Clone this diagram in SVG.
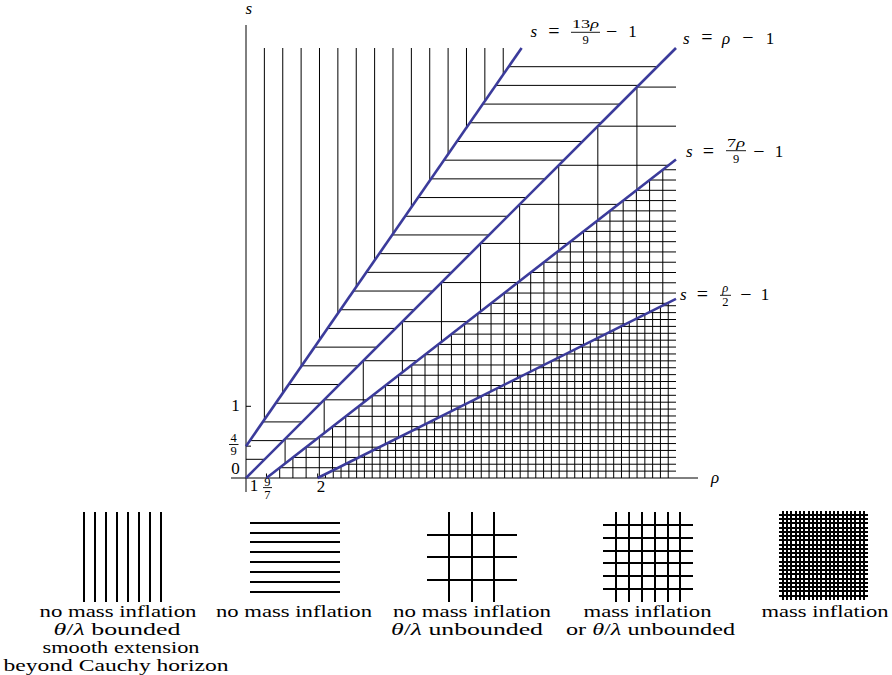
<svg xmlns="http://www.w3.org/2000/svg" width="892" height="675" viewBox="0 0 892 675" font-family="'Liberation Serif', 'Times New Roman', serif">
<style>
text{font-family:'Liberation Serif','Times New Roman',serif;fill:#000}
.m{font-style:italic}
.t{font-size:17px}
.op{font-size:20px}
.f{font-size:12.5px}
.lg{font-size:16.5px}
.bl{stroke:#3b3b9b;stroke-width:2.6;fill:none}
.ax{stroke:#000;stroke-width:1;fill:none}
.leg{stroke:#000;stroke-width:2;fill:none}
.bar{stroke:#000;stroke-width:0.9;fill:none}
.gl{stroke:#000;stroke-width:1;fill:none}
</style>
<defs>
<clipPath id="c1"><polygon points="246,48 521.6,48 246,446.15"/></clipPath>
<clipPath id="c2"><polygon points="246,446.15 521.6,48 676,48 246,478"/></clipPath>
<clipPath id="c3"><polygon points="246,478 676,48 676,159.5 266.48,478"/></clipPath>
<clipPath id="c4"><polygon points="266.48,478 676,159.5 676,298.83 317.67,478"/></clipPath>
<clipPath id="c5"><polygon points="317.67,478 676,298.83 676,478"/></clipPath>
</defs>

<g id="regions">
<path id="region-1" class="gl" clip-path="url(#c1)" d="M264.37 48V447M282.75 48V447M301.12 48V447M319.49 48V447M337.87 48V447M356.24 48V447M374.61 48V447M392.98 48V447M411.36 48V447M429.73 48V447M448.1 48V447M466.48 48V447M484.85 48V447M503.22 48V447"/>
<path id="region-2" class="gl" clip-path="url(#c2)" d="M246 459.3H676M246 440.61H676M246 421.91H676M246 403.22H676M246 384.52H676M246 365.82H676M246 347.13H676M246 328.43H676M246 309.74H676M246 291.04H676M246 272.34H676M246 253.65H676M246 234.95H676M246 216.26H676M246 197.56H676M246 178.86H676M246 160.17H676M246 141.47H676M246 122.78H676M246 104.08H676M246 85.38H676M246 66.69H676"/>
<path id="region-3" class="gl" clip-path="url(#c3)" d="M285.09 48V478M324.18 48V478M363.27 48V478M402.36 48V478M441.45 48V478M480.55 48V478M519.64 48V478M558.73 48V478M597.82 48V478M636.91 48V478M246 438.91H676M246 399.82H676M246 360.73H676M246 321.64H676M246 282.55H676M246 243.45H676M246 204.36H676M246 165.27H676M246 126.18H676M246 87.09H676"/>
<path id="region-4" class="gl" clip-path="url(#c4)" d="M279.69 159V478M292.9 159V478M306.11 159V478M319.32 159V478M332.53 159V478M345.74 159V478M358.95 159V478M372.16 159V478M385.37 159V478M398.58 159V478M411.79 159V478M425 159V478M438.21 159V478M451.42 159V478M464.63 159V478M477.84 159V478M491.06 159V478M504.27 159V478M517.48 159V478M530.69 159V478M543.9 159V478M557.11 159V478M570.32 159V478M583.53 159V478M596.74 159V478M609.95 159V478M623.16 159V478M636.37 159V478M649.58 159V478M662.79 159V478M266 467.73H676M266 457.45H676M266 447.18H676M266 436.9H676M266 426.63H676M266 416.35H676M266 406.08H676M266 395.8H676M266 385.53H676M266 375.25H676M266 364.98H676M266 354.7H676M266 344.43H676M266 334.15H676M266 323.88H676M266 313.6H676M266 303.33H676M266 293.05H676M266 282.78H676M266 272.5H676M266 262.23H676M266 251.95H676M266 241.68H676M266 231.4H676M266 221.13H676M266 210.86H676M266 200.58H676M266 190.31H676M266 180.03H676M266 169.76H676"/>
<path id="region-5" class="gl" clip-path="url(#c5)" d="M325.46 298V478M333.25 298V478M341.04 298V478M348.83 298V478M356.62 298V478M364.41 298V478M372.2 298V478M379.99 298V478M387.78 298V478M395.57 298V478M403.36 298V478M411.15 298V478M418.94 298V478M426.73 298V478M434.52 298V478M442.31 298V478M450.1 298V478M457.89 298V478M465.68 298V478M473.47 298V478M481.26 298V478M489.05 298V478M496.84 298V478M504.63 298V478M512.42 298V478M520.21 298V478M528 298V478M535.79 298V478M543.58 298V478M551.37 298V478M559.16 298V478M566.95 298V478M574.74 298V478M582.53 298V478M590.32 298V478M598.11 298V478M605.9 298V478M613.69 298V478M621.48 298V478M629.27 298V478M637.06 298V478M644.85 298V478M652.64 298V478M660.43 298V478M668.22 298V478M317 471.11H676M317 464.22H676M317 457.33H676M317 450.44H676M317 443.55H676M317 436.65H676M317 429.76H676M317 422.87H676M317 415.98H676M317 409.09H676M317 402.2H676M317 395.31H676M317 388.42H676M317 381.53H676M317 374.64H676M317 367.74H676M317 360.85H676M317 353.96H676M317 347.07H676M317 340.18H676M317 333.29H676M317 326.4H676M317 319.51H676M317 312.62H676M317 305.73H676"/>
</g>

<g id="axes">
<path class="ax" d="M246 25V492M231 478H698"/>
<path class="ax" d="M246 406.3H251M246 446.15H251M266.48 478V473.5M317.67 478V473.5"/>
<text class="m t" x="245.5" y="13.5">s</text>
<text class="m t" x="711" y="483">ρ</text>
<text class="t" x="235.5" y="410.5" text-anchor="middle">1</text>
<text class="t" x="235.5" y="473.5" text-anchor="middle">0</text>
<text class="f" x="233.7" y="441.5" text-anchor="middle">4</text>
<path class="bar" d="M229 444.5H238.5"/>
<text class="f" x="233.7" y="454.5" text-anchor="middle">9</text>
<text class="t" x="254" y="490.5" text-anchor="middle">1</text>
<text class="f" x="267.4" y="485.5" text-anchor="middle">9</text>
<path class="bar" d="M263 487.6H272"/>
<text class="f" x="267.4" y="498.5" text-anchor="middle">7</text>
<text class="t" x="321" y="491.5" text-anchor="middle">2</text>
</g>

<g id="connectors">
<path id="line-13" class="bl" d="M246 446.15L521.6 48"/>
<path id="line-1" class="bl" d="M246 478L676 48"/>
<path id="line-7" class="bl" d="M266.48 478L676 159.5"/>
<path id="line-half" class="bl" d="M317.67 478L676 298.83"/>
</g>

<g id="label-13">
<text class="m t" x="530.5" y="37">s</text>
<text class="op" x="554" y="37.5" text-anchor="middle">=</text>
<text class="f" x="585.5" y="28" text-anchor="middle" textLength="27" lengthAdjust="spacingAndGlyphs">13<tspan class="m">ρ</tspan></text>
<path class="bar" d="M571 32.3H600"/>
<text class="f" x="585.5" y="43.5" text-anchor="middle">9</text>
<text class="op" x="611.7" y="37.5" text-anchor="middle">−</text>
<text class="t" x="632.5" y="37" text-anchor="middle">1</text>
</g>
<g id="label-1">
<text class="m t" x="683" y="43.5">s</text>
<text class="op" x="707" y="44" text-anchor="middle">=</text>
<text class="m t" x="726" y="43.5" text-anchor="middle">ρ</text>
<text class="op" x="748" y="44" text-anchor="middle">−</text>
<text class="t" x="770" y="43.5" text-anchor="middle">1</text>
</g>
<g id="label-7">
<text class="m t" x="686" y="157">s</text>
<text class="op" x="708.3" y="157.5" text-anchor="middle">=</text>
<text class="f" x="736" y="146.5" text-anchor="middle" textLength="18" lengthAdjust="spacingAndGlyphs">7<tspan class="m">ρ</tspan></text>
<path class="bar" d="M726 150.7H746"/>
<text class="f" x="736" y="162.5" text-anchor="middle">9</text>
<text class="op" x="759" y="157.5" text-anchor="middle">−</text>
<text class="t" x="779" y="157" text-anchor="middle">1</text>
</g>
<g id="label-half">
<text class="m t" x="680" y="300">s</text>
<text class="op" x="702.5" y="300.5" text-anchor="middle">=</text>
<text class="f m" x="725.3" y="292" text-anchor="middle">ρ</text>
<path class="bar" d="M720 295.3H731"/>
<text class="f" x="725.3" y="305.5" text-anchor="middle">2</text>
<text class="op" x="746" y="300.5" text-anchor="middle">−</text>
<text class="t" x="765" y="300" text-anchor="middle">1</text>
</g>

<g id="legend-1">
<path class="leg" d="M84 512V602M95 512V602M106 512V602M117 512V602M128 512V602M139 512V602M150 512V602M161 512V602"/>
<text class="lg" x="118" y="616.5" text-anchor="middle" textLength="157" lengthAdjust="spacingAndGlyphs">no mass inflation</text>
<text class="lg" x="117" y="634.5" text-anchor="middle" textLength="127" lengthAdjust="spacingAndGlyphs"><tspan class="m">θ</tspan>/<tspan class="m">λ</tspan> bounded</text>
<text class="lg" x="121" y="652.5" text-anchor="middle" textLength="157" lengthAdjust="spacingAndGlyphs">smooth extension</text>
<text class="lg" x="116" y="670.5" text-anchor="middle" textLength="225" lengthAdjust="spacingAndGlyphs">beyond Cauchy horizon</text>
</g>

<g id="legend-2">
<path class="leg" d="M250 523H340M250 533H340M250 542H340M250 552H340M250 562H340M250 572H340M250 582H340M250 592H340"/>
<text class="lg" x="294" y="616.5" text-anchor="middle" textLength="156" lengthAdjust="spacingAndGlyphs">no mass inflation</text>
</g>

<g id="legend-3">
<path class="leg" d="M449 512V602M472 512V602M494 512V602M427 535H517M427 557H517M427 580H517"/>
<text class="lg" x="472" y="616.5" text-anchor="middle" textLength="158" lengthAdjust="spacingAndGlyphs">no mass inflation</text>
<text class="lg" x="467" y="634.5" text-anchor="middle" textLength="152" lengthAdjust="spacingAndGlyphs"><tspan class="m">θ</tspan>/<tspan class="m">λ</tspan> unbounded</text>
</g>

<g id="legend-4">
<path class="leg" d="M616 512V602M629 512V602M642 512V602M655 512V602M668 512V602M680 512V602M603 525H693M603 538H693M603 551H693M603 563H693M603 576H693M603 589H693"/>
<text class="lg" x="647.5" y="616.5" text-anchor="middle" textLength="128" lengthAdjust="spacingAndGlyphs">mass inflation</text>
<text class="lg" x="650.5" y="634.5" text-anchor="middle" textLength="169" lengthAdjust="spacingAndGlyphs">or <tspan class="m">θ</tspan>/<tspan class="m">λ</tspan> unbounded</text>
</g>

<g id="legend-5">
<path class="leg" d="M783 511V600M787 511V600M791 511V600M796 511V600M800 511V600M804 511V600M809 511V600M813 511V600M817 511V600M821 511V600M826 511V600M830 511V600M834 511V600M838 511V600M843 511V600M847 511V600M851 511V600M855 511V600M860 511V600M864 511V600M779 515H868M779 519H868M779 523H868M779 528H868M779 532H868M779 536H868M779 540H868M779 545H868M779 549H868M779 553H868M779 557H868M779 562H868M779 566H868M779 570H868M779 574H868M779 579H868M779 583H868M779 587H868M779 591H868M779 596H868"/>
<text class="lg" x="825" y="616.5" text-anchor="middle" textLength="127" lengthAdjust="spacingAndGlyphs">mass inflation</text>
</g>
</svg>
